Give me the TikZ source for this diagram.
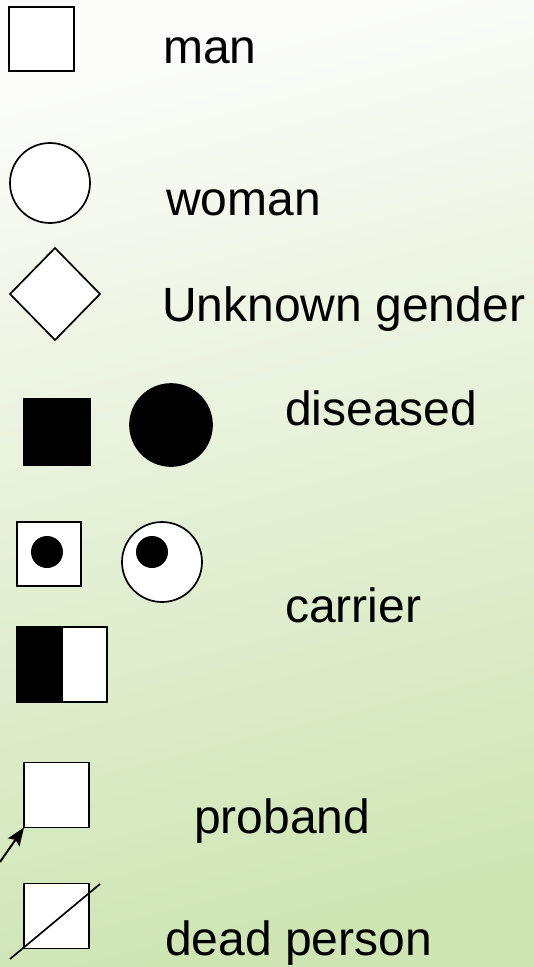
\documentclass[tikz,border=0pt]{standalone}
\usepackage{fontspec}
\setmainfont{Liberation Sans}
\usetikzlibrary{shapes.geometric,arrows.meta}
\definecolor{bgtop}{HTML}{FBFCF9}
\definecolor{bgbot}{HTML}{CFE5B4}
\begin{document}
\begin{tikzpicture}[x=1pt,y=-1pt,
  sym/.style={draw=black,line width=1.7pt,fill=white,inner sep=0pt,outer sep=0pt},
  sq/.style={sym,rectangle,minimum size=#1},
  circ/.style={sym,circle,minimum size=#1},
  dot/.style={circle,fill=black,inner sep=0pt,minimum size=#1},
  lbl/.style={anchor=base west,inner sep=0pt,font=\fontsize{48}{56}\selectfont}]
\shade[top color=bgtop,bottom color=bgbot,shading angle=14] (0,0) rectangle (534,967);
\useasboundingbox (0,0) rectangle (534,967);
% man
\node[sq=64.5] (man) at (41.5,39) {};
\node[lbl] (tman) at (163,63) {man};
% woman
\node[circ=80] (woman) at (50,183) {};
\node[lbl] (twoman) at (166,215) {woman};
% unknown
\node[sym,diamond,minimum width=90,minimum height=92] (unk) at (55,294) {};
\node[lbl] (tunk) at (162,321) {Unknown gender};
% diseased
\node[sq=66,fill=black] (dsq) at (57,432) {};
\node[circ=82,fill=black] (dci) at (171,425) {};
\node[lbl] (tdis) at (285,425) {diseased};
% carrier
\node[sq=64] (csq) at (49,554) {};
\node[dot=32] (csqd) at (47,552) {};
\node[circ=80] (cci) at (162,562) {};
\node[dot=32] (ccid) at (152,552) {};
\node[sym,rectangle,minimum width=90,minimum height=75] (half) at (62,664.5) {};
\fill[black] (half.south west) rectangle ([xshift=46pt]half.north west);
\draw[line width=1.7pt] (half.south west) rectangle (half.north east);
\node[lbl] (tcar) at (285,622) {carrier};
% proband
\node[sq=65] (prob) at (56.5,795) {};
\coordinate (pstart) at (0,862);
\draw[line width=2pt,-{Stealth[length=18pt,width=14pt,inset=3pt]}] (pstart) -- (prob.south west);
\node[lbl] (tprob) at (194,833) {proband};
% dead
\node[sq=65] (dead) at (56.5,916) {};
\coordinate (d1) at (10,959);
\coordinate (d2) at (100,884);
\draw[line width=1.7pt] (d1) -- (d2);
\node[lbl] (tdead) at (165,955) {dead person};
\end{tikzpicture}
\end{document}
